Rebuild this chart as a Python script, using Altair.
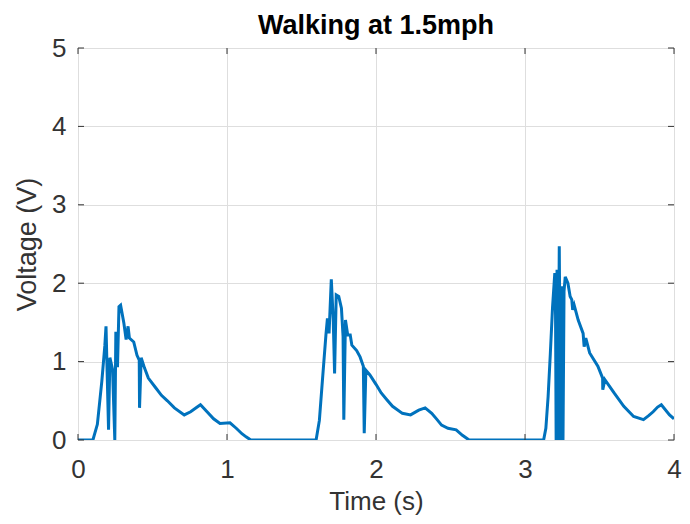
import altair as alt
import pandas as pd

# Time (s) and voltage (V)
time_s = [0.00, 0.10, 0.13, 0.16, 0.18, 0.188, 0.205, 0.214, 0.232, 0.247, 0.254, 0.265, 0.275, 0.286,
          0.308, 0.323, 0.336, 0.345, 0.374, 0.396, 0.411, 0.413, 0.424, 0.446, 0.472,
          0.52, 0.56, 0.60, 0.647, 0.713, 0.756, 0.80, 0.822, 0.866, 0.91, 0.953, 1.02, 1.062, 1.10,
          1.128, 1.16,
          1.598, 1.62, 1.64, 1.664, 1.674, 1.685, 1.700, 1.713, 1.722, 1.733, 1.75, 1.768,
          1.779, 1.784, 1.795, 1.810, 1.827, 1.838, 1.87, 1.893, 1.915, 1.921, 1.932, 1.959,
          2.00, 2.035, 2.07, 2.111, 2.177, 2.232, 2.287, 2.33, 2.374, 2.41, 2.44, 2.483, 2.538,
          2.58, 2.625,
          3.125, 3.14, 3.155, 3.17, 3.185, 3.200, 3.205, 3.209, 3.215, 3.222, 3.230, 3.239,
          3.248, 3.255, 3.262, 3.270, 3.288, 3.303, 3.314, 3.320, 3.330, 3.357, 3.390,
          3.397, 3.408, 3.434, 3.489, 3.521, 3.522, 3.536, 3.598, 3.663, 3.729, 3.795,
          3.83, 3.86, 3.89, 3.915, 3.97, 4.0]
voltage_v = [0.00, 0.00, 0.20, 0.75, 1.20, 1.45, 0.13, 1.05, 0.90, 0.00, 1.38, 0.93, 1.70, 1.72,
             1.49, 1.28, 1.45, 1.30, 1.25, 1.08, 1.02, 0.41, 1.05, 0.92, 0.79,
             0.67, 0.57, 0.50, 0.41, 0.32, 0.36, 0.42, 0.45, 0.36, 0.27, 0.21, 0.22, 0.15, 0.08,
             0.04, 0.00,
             0.00, 0.25, 0.75, 1.34, 1.55, 1.36, 2.05, 1.53, 0.85, 1.85, 1.83, 1.68,
             1.32, 0.26, 1.53, 1.34, 1.34, 1.21, 1.14, 1.06, 0.94, 0.085, 0.89, 0.83,
             0.71, 0.60, 0.52, 0.43, 0.34, 0.32, 0.38, 0.41, 0.34, 0.26, 0.19, 0.15, 0.13,
             0.06, 0.00,
             0.00, 0.15, 0.55, 1.10, 1.70, 2.13, 1.60, 0.00, 2.17, 0.00, 2.47, 0.00,
             1.96, 0.00, 1.90, 2.08, 2.00, 1.83, 1.79, 1.66, 1.72, 1.53, 1.36,
             1.19, 1.30, 1.11, 0.94, 0.79, 0.64, 0.77, 0.60, 0.43, 0.30, 0.26,
             0.31, 0.36, 0.42, 0.45, 0.32, 0.27]

x_ticks = [0, 1, 2, 3, 4]
y_ticks = [0, 1, 2, 3, 4, 5]

df = pd.DataFrame({"t": time_s, "v": voltage_v})
W, H = 596, 392
AX = "#333333"
FONT = "Liberation Sans"

xs = alt.Scale(domain=[0, 4], nice=False)
ys = alt.Scale(domain=[0, 5], nice=False)

line = alt.Chart(df).mark_line(color="#0072BD", strokeWidth=3, clip=True).encode(
    x=alt.X("t:Q", scale=xs, title="Time (s)",
            axis=alt.Axis(values=x_ticks, format="d", grid=True, gridColor="#dedede",
                          ticks=False, domain=False, labelFontSize=26, labelPadding=16,
                          labelFlush=False,
                          labelColor=AX, titleFontSize=26, titleColor=AX,
                          titleFontWeight="normal", titlePadding=6, labelFont=FONT,
                          titleFont=FONT)),
    y=alt.Y("v:Q", scale=ys, title="Voltage (V)",
            axis=alt.Axis(values=y_ticks, format="d", grid=True, gridColor="#dedede",
                          ticks=False, domain=False, labelFontSize=26, labelPadding=12,
                          labelColor=AX, titleFontSize=27, titleColor=AX,
                          titleFontWeight="normal", titlePadding=10, labelFont=FONT,
                          titleFont=FONT)),
)

xt = pd.DataFrame({"x": x_ticks})
yt = pd.DataFrame({"y": y_ticks})
xtick_b = alt.Chart(xt).mark_rule(color=AX, strokeWidth=1).encode(
    x=alt.X("x:Q", scale=xs), y=alt.value(H), y2=alt.value(H - 6))
xtick_t = alt.Chart(xt).mark_rule(color=AX, strokeWidth=1).encode(
    x=alt.X("x:Q", scale=xs), y=alt.value(0), y2=alt.value(6))
ytick_l = alt.Chart(yt).mark_rule(color=AX, strokeWidth=1).encode(
    y=alt.Y("y:Q", scale=ys), x=alt.value(0), x2=alt.value(6))
ytick_r = alt.Chart(yt).mark_rule(color=AX, strokeWidth=1).encode(
    y=alt.Y("y:Q", scale=ys), x=alt.value(W), x2=alt.value(W - 6))

chart = alt.layer(line, xtick_b, xtick_t, ytick_l, ytick_r).properties(
    width=W, height=H,
    title=alt.TitleParams("Walking at 1.5mph", fontSize=27, fontWeight="bold",
                          color="#000000", offset=-5, font=FONT, anchor="middle",
                          frame="group"),
    autosize=alt.AutoSizeParams(type="none"),
    padding={"left": 70, "top": 40, "right": 8, "bottom": 76},
).configure_view(stroke=AX, strokeWidth=1.5).configure(background="white")

chart.save("out.html", embed_options={"renderer": "svg", "actions": False})
